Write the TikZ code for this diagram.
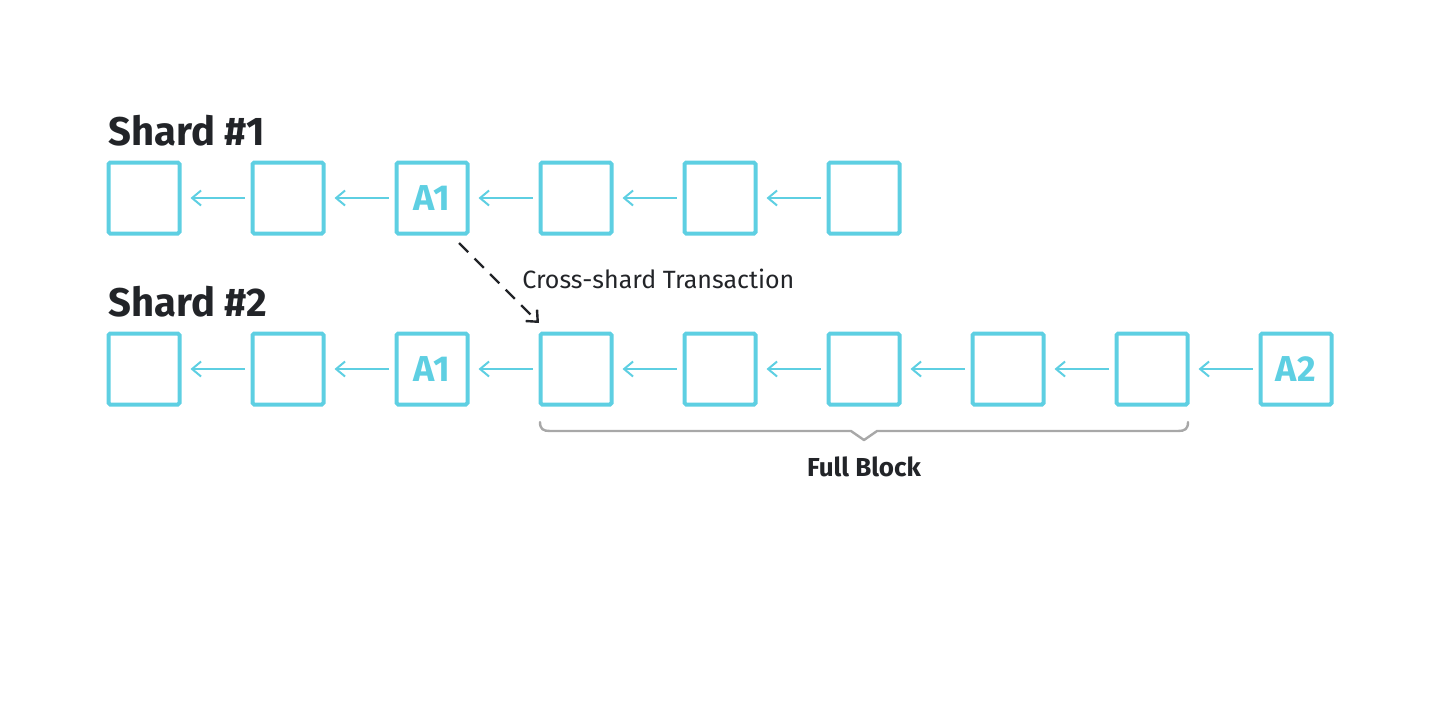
\documentclass[tikz,border=0pt]{standalone}
\usepackage{fontspec}
\setmainfont{Fira Sans}
\usetikzlibrary{arrows.meta}
\definecolor{cy}{HTML}{5ECFE2}
\definecolor{ink}{HTML}{222428}
\definecolor{brgray}{HTML}{A8A8A8}
\tikzset{
  blk/.style={draw=cy, line width=2pt, minimum size=35.5pt, inner sep=0pt, rounded corners=0.8pt, text=cy, font=\fontsize{18}{18}\selectfont\bfseries},
  chain/.style={draw=cy, line width=1pt, -{Straight Barb[length=4.5pt,width=7.5pt]}, shorten <=3pt, shorten >=4.5pt},
  shard/.style={anchor=base west, inner sep=0pt, text=ink, font=\fontsize{20}{20}\selectfont\bfseries},
  cross/.style={draw=ink, line width=1.2pt, dash pattern=on 6.5pt off 4.5pt, -{Straight Barb[length=4.5pt,width=8pt]}},
  lbl/.style={inner sep=0pt, text=ink}
}
\begin{document}
\begin{tikzpicture}[x=0.5pt,y=-0.5pt]
\useasboundingbox (0,0) rectangle (1440,720);
% Shard 1
\node[shard] (s1) at (108,145) {Shard \#1};
\foreach \i/\x in {1/144,2/288,4/576,5/720,6/864} {
  \node[blk] (a\i) at (\x,198) {};
}
\node[blk] (a3) at (432,198) {A1};
\foreach \i/\j in {2/1,3/2,4/3,5/4,6/5} {
  \draw[chain] (a\i.west) -- (a\j.east);
}
% Shard 2
\node[shard] (s2) at (108,316) {Shard \#2};
\foreach \i/\x in {1/144,2/288,4/576,5/720,6/864,7/1008,8/1152} {
  \node[blk] (b\i) at (\x,369) {};
}
\node[blk] (b3) at (432,369) {A1};
\node[blk] (b9) at (1296,369) {A2};
\foreach \i/\j in {2/1,3/2,4/3,5/4,6/5,7/6,8/7,9/8} {
  \draw[chain] (b\i.west) -- (b\j.east);
}
% cross-shard transaction
\coordinate (ds) at (459,243);
\coordinate (de) at (539,323);
\draw[cross] (ds) -- (de);
\node[lbl, anchor=base west, font=\fontsize{12.5}{12.5}\selectfont] (ct) at (522,288) {Cross-shard Transaction};
% brace
\draw[brgray, line width=1.2pt, line cap=round, line join=round]
  (540,422) .. controls (540,429) and (543,431) .. (550,431)
  -- (851,431) -- (864,440) -- (877,431) -- (1178,431)
  .. controls (1185,431) and (1188,429) .. (1188,422);
\node[lbl, anchor=base, font=\fontsize{13}{13}\selectfont\bfseries] (fb) at (864,476) {Full Block};
\end{tikzpicture}
\end{document}
